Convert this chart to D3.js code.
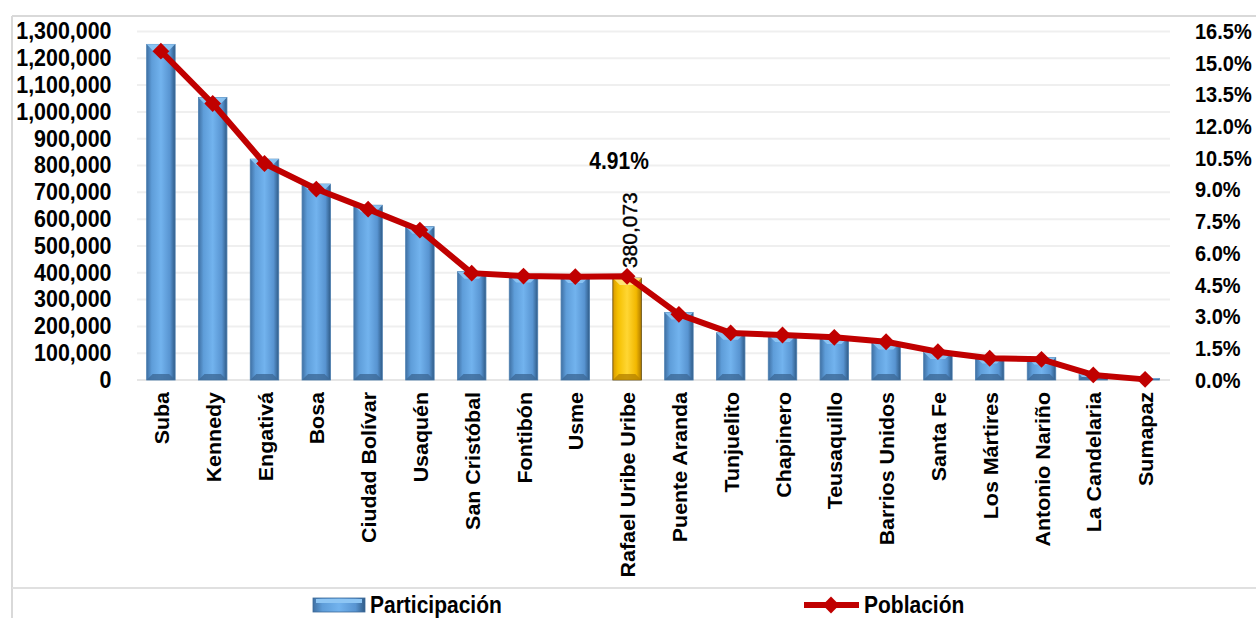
<!DOCTYPE html>
<html>
<head>
<meta charset="utf-8">
<script src="https://cdn.jsdelivr.net/npm/d3@7"></script>
<style>
  body { margin: 0; background: #fff; }
  text { font-family: "Liberation Sans", Arial, sans-serif; }
</style>
</head>
<body>
<div id="chart"></div>
<script>
// localidades de Bogotá
var localidades = ["Suba", "Kennedy", "Engativá", "Bosa", "Ciudad Bolívar", "Usaquén",
    "San Cristóbal", "Fontibón", "Usme", "Rafael Uribe Uribe", "Puente Aranda", "Tunjuelito",
    "Chapinero", "Teusaquillo", "Barrios Unidos", "Santa Fe", "Los Mártires", "Antonio Nariño",
    "La Candelaria", "Sumapaz"];

// barras (eje izquierdo)
var participacion = [1252000, 1054000, 824000, 731000, 652000, 572000, 404000, 390000, 388000,
    380073, 252000, 176000, 168000, 160000, 140000, 104000, 88000, 84000, 22000, 6000];

// línea (eje derecho, %)
var poblacion = [15.57, 13.09, 10.25, 9.04, 8.09, 7.10, 5.06, 4.92, 4.89, 4.91, 3.11, 2.23,
    2.13, 2.02, 1.81, 1.34, 1.03, 0.98, 0.24, 0.03];

var leftTicks = d3.range(0, 1300001, 100000);
var rightTicks = d3.range(0, 16.51, 1.5);
var destacado = "Rafael Uribe Uribe";

var w = 1256, h = 618;

var svg = d3.select("#chart").append("svg")
    .attr("width", w)
    .attr("height", h);

var defs = svg.append("defs");

function barGradient(id, stops) {
    var g = defs.append("linearGradient").attr("id", id)
        .attr("x1", "0%").attr("x2", "100%").attr("y1", "0%").attr("y2", "0%");
    stops.forEach(function (s) {
        g.append("stop").attr("offset", s[0]).attr("stop-color", s[1]);
    });
}
barGradient("gBlue", [["0%", "#3f70a3"], ["18%", "#5e9dd9"], ["50%", "#72b3ee"], ["82%", "#5894d1"], ["100%", "#2f5b87"]]);
barGradient("gGold", [["0%", "#d99a00"], ["18%", "#f5c000"], ["50%", "#ffd633"], ["82%", "#f2b800"], ["100%", "#b07c00"]]);

// chart frame
svg.append("line").attr("x1", 12).attr("x2", w).attr("y1", 16).attr("y2", 16)
    .style("stroke", "#d9d9d9").style("stroke-width", 2);
svg.append("line").attr("x1", 12).attr("x2", 12).attr("y1", 16).attr("y2", h)
    .style("stroke", "#d9d9d9").style("stroke-width", 2);
svg.append("line").attr("x1", 12).attr("x2", w).attr("y1", 588).attr("y2", 588)
    .style("stroke", "#e0e0e0").style("stroke-width", 2);

var xScale = d3.scaleBand()
    .domain(localidades)
    .range([135, 1171])
    .paddingInner(0.45)
    .paddingOuter(0.225);

var yLeft = d3.scaleLinear().domain([0, 1300000]).range([380, 31.5]);
var yRight = d3.scaleLinear().domain([0, 16.5]).range([380, 31.5]);

// gridlines
svg.append("g").selectAll("line")
    .data(leftTicks)
    .enter().append("line")
    .attr("x1", 137).attr("x2", 1170)
    .attr("y1", function (d) { return yLeft(d); })
    .attr("y2", function (d) { return yLeft(d); })
    .style("stroke", function (d) { return d === 0 ? "#e6e6e6" : "#efefef"; })
    .style("stroke-width", 2);

// left axis
var axL = svg.append("g")
    .attr("transform", "translate(137,0)")
    .call(d3.axisLeft(yLeft).tickValues(leftTicks).tickSize(0).tickPadding(25)
        .tickFormat(d3.format(",")));
axL.select(".domain").remove();
axL.selectAll("text").style("font-size", "21px").style("font-weight", "bold").style("fill", "#000")
    .attr("transform", "scale(1.02,1.1)");

// right axis
var axR = svg.append("g")
    .attr("transform", "translate(1170,0)")
    .call(d3.axisRight(yRight).tickValues(rightTicks).tickSize(0).tickPadding(25)
        .tickFormat(function (d) { return d3.format(".1f")(d) + "%"; }));
axR.select(".domain").remove();
axR.selectAll("text").style("font-size", "20px").style("font-weight", "bold").style("fill", "#000")
    .attr("transform", "scale(1,1.1)");

// bars
var data = localidades.map(function (d, i) {
    return { name: d, value: participacion[i], pct: poblacion[i] };
});

var bw = xScale.bandwidth();
var bars = svg.append("g").selectAll("g")
    .data(data)
    .enter().append("g");

bars.append("rect")
    .attr("x", function (d) { return xScale(d.name); })
    .attr("y", function (d) { return yLeft(d.value); })
    .attr("width", bw)
    .attr("height", function (d) { return yLeft(0) - yLeft(d.value); })
    .style("fill", function (d) { return d.name === destacado ? "url(#gGold)" : "url(#gBlue)"; })
    .style("stroke", function (d) { return d.name === destacado ? "#5a4300" : "#4d7fb0"; })
    .style("stroke-width", 0.8);

// bevel on top and bottom of bars
bars.append("path")
    .attr("d", function (d) {
        var x0 = xScale(d.name), y0 = yLeft(d.value);
        var b = Math.min(7, (yLeft(0) - y0) / 2);
        return "M" + x0 + "," + y0 + "L" + (x0 + bw) + "," + y0 +
            "L" + (x0 + bw - b) + "," + (y0 + b) + "L" + (x0 + b) + "," + (y0 + b) + "Z";
    })
    .style("fill", function (d) { return d.name === destacado ? "#ffe680" : "#8ec6f4"; })
    .style("opacity", 0.9);
bars.append("path")
    .attr("d", function (d) {
        var x0 = xScale(d.name), y1 = yLeft(0);
        var b = Math.min(6, (y1 - yLeft(d.value)) / 2);
        return "M" + x0 + "," + y1 + "L" + (x0 + bw) + "," + y1 +
            "L" + (x0 + bw - b) + "," + (y1 - b) + "L" + (x0 + b) + "," + (y1 - b) + "Z";
    })
    .style("fill", function (d) { return d.name === destacado ? "#b88400" : "#3d6a98"; })
    .style("opacity", 0.8);

// line
var line = d3.line()
    .x(function (d) { return xScale(d.name) + bw / 2; })
    .y(function (d) { return yRight(d.pct); });

svg.append("path")
    .datum(data)
    .attr("d", line)
    .style("fill", "none")
    .style("stroke", "#c00000")
    .style("stroke-width", 6)
    .style("stroke-linejoin", "round");

var diamond = d3.symbol().type(d3.symbolDiamond2).size(180);
svg.append("g").selectAll("path")
    .data(data)
    .enter().append("path")
    .attr("d", diamond)
    .attr("transform", function (d) {
        return "translate(" + (xScale(d.name) + bw / 2) + "," + yRight(d.pct) + ")";
    })
    .style("fill", "#c00000");

// category labels
svg.append("g").selectAll("text")
    .data(localidades)
    .enter().append("text")
    .attr("transform", function (d) {
        return "translate(" + (xScale(d) + bw / 2 + 8) + ",392) rotate(-90) scale(1.07,1)";
    })
    .attr("text-anchor", "end")
    .style("font-size", "20px")
    .style("font-weight", "bold")
    .text(function (d) { return d; });

// labels for the highlighted bar
var sel = data[localidades.indexOf(destacado)];
svg.append("text")
    .attr("transform", "translate(" + (xScale(destacado) + bw / 2 + 10) + "," + (yLeft(sel.value) - 10) + ") rotate(-90)")
    .attr("text-anchor", "start")
    .style("font-size", "21px")
    .style("stroke", "#000").style("stroke-width", 0.4)
    .text(d3.format(",")(sel.value));

svg.append("text")
    .attr("transform", "translate(" + (xScale(destacado) + bw / 2 - 8) + ",169) scale(1,1.1)")
    .attr("text-anchor", "middle")
    .style("font-size", "21px")
    .style("font-weight", "bold")
    .text(d3.format(".2f")(sel.pct) + "%");

// legend
var lg = svg.append("g");
lg.append("rect").attr("x", 313).attr("y", 598).attr("width", 52).attr("height", 14)
    .style("fill", "url(#gBlue)").style("stroke", "#3d6a98").style("stroke-width", 0.8);
lg.append("rect").attr("x", 316).attr("y", 599).attr("width", 46).attr("height", 4)
    .style("fill", "#8ec6f4");
lg.append("text").attr("transform", "translate(370,613) scale(1,1.1)")
    .style("font-size", "21px").style("font-weight", "bold").text("Participación");

lg.append("line").attr("x1", 804).attr("x2", 859).attr("y1", 605).attr("y2", 605)
    .style("stroke", "#c00000").style("stroke-width", 6);
lg.append("path").attr("d", diamond).attr("transform", "translate(831,605)")
    .style("fill", "#c00000");
lg.append("text").attr("transform", "translate(864,613) scale(1,1.1)")
    .style("font-size", "21px").style("font-weight", "bold").text("Población");
</script>
</body>
</html>
